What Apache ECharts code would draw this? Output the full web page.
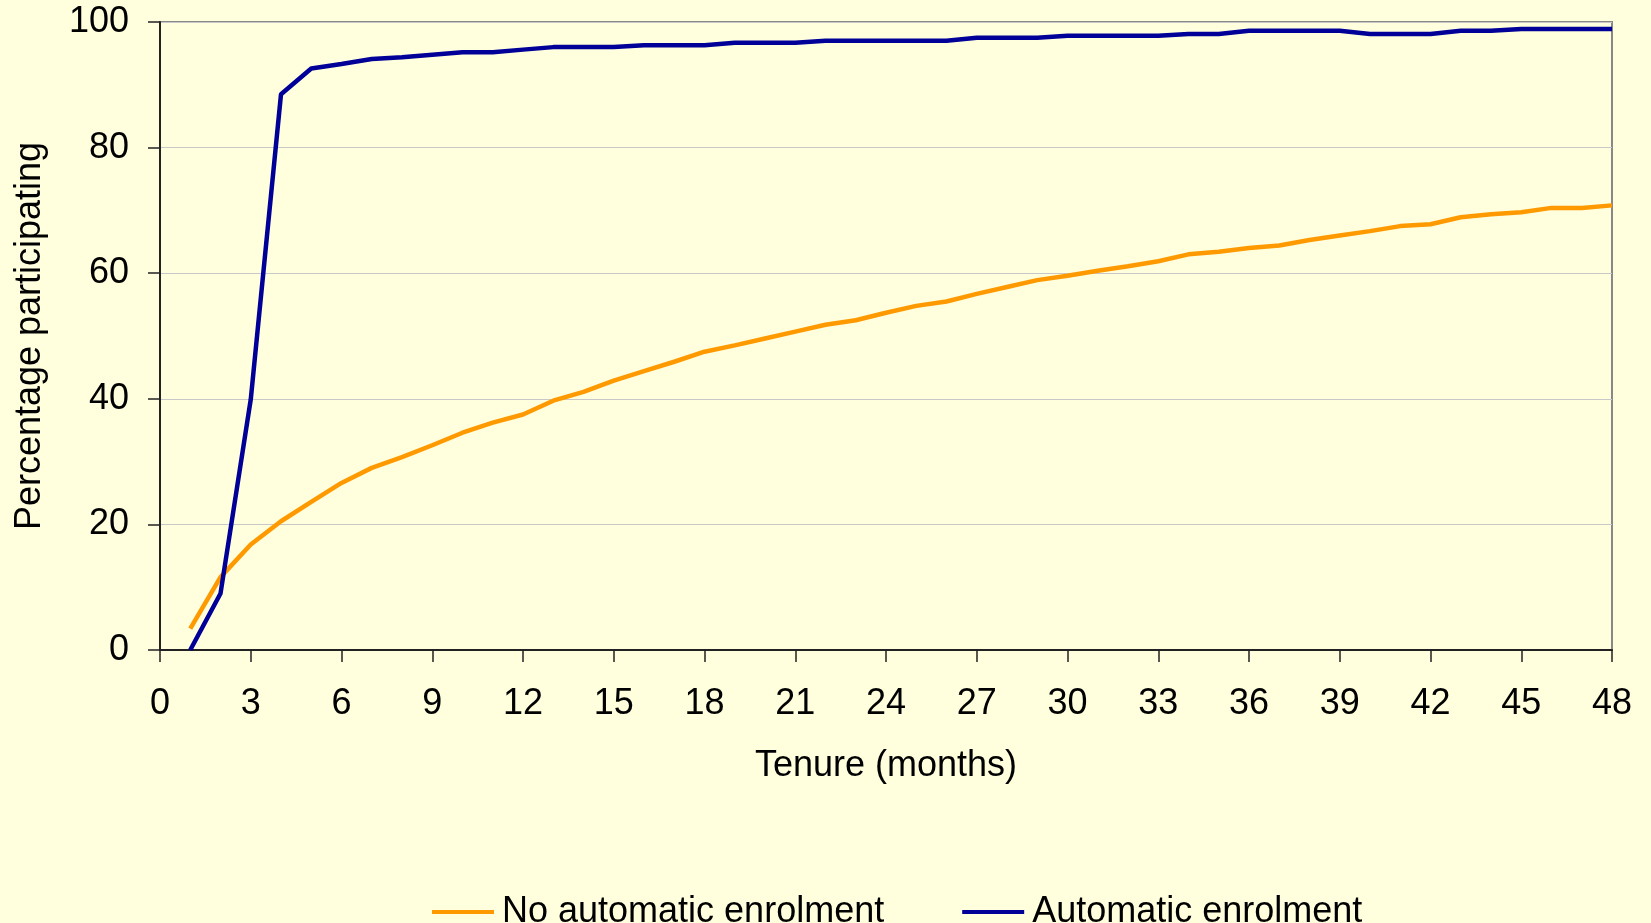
<!DOCTYPE html>
<html>
<head>
<meta charset="utf-8">
<title>Participation by tenure</title>
<script src="https://cdn.jsdelivr.net/npm/echarts@6/dist/echarts.min.js"></script>
<style>
  html, body { margin: 0; padding: 0; background: #FFFFDD; }
  #chart { width: 1651px; height: 923px; }
</style>
</head>
<body>
<div id="chart"></div>
<script>
// Tenure in months (1..48)
const months = [];
for (let m = 1; m <= 48; m++) months.push(m);

// Percentage participating, no automatic enrolment
const noAutoEnrol = [
  3.4, 11.6, 16.8, 20.5, 23.6, 26.6, 29.0, 30.7, 32.6, 34.6,
  36.2, 37.5, 39.7, 41.1, 42.9, 44.4, 45.9, 47.5, 48.5, 49.6,
  50.7, 51.8, 52.5, 53.7, 54.8, 55.5, 56.7, 57.8, 58.9, 59.6,
  60.4, 61.1, 61.9, 63.0, 63.4, 64.0, 64.4, 65.3, 66.0, 66.7,
  67.5, 67.8, 68.9, 69.4, 69.7, 70.4, 70.4, 70.8
];

// Percentage participating, automatic enrolment
const autoEnrol = [
  0.0, 9.0, 39.9, 88.5, 92.6, 93.3, 94.1, 94.4, 94.8, 95.2,
  95.2, 95.6, 96.0, 96.0, 96.0, 96.3, 96.3, 96.3, 96.7, 96.7,
  96.7, 97.0, 97.0, 97.0, 97.0, 97.0, 97.5, 97.5, 97.5, 97.8,
  97.8, 97.8, 97.8, 98.1, 98.1, 98.6, 98.6, 98.6, 98.6, 98.1,
  98.1, 98.1, 98.6, 98.6, 98.9, 98.9, 98.9, 98.9
];

const seriesNames = ['No automatic enrolment', 'Automatic enrolment'];
const xAxisTitle = 'Tenure (months)';
const yAxisTitle = 'Percentage participating';

const pairs = (vals) => months.map((m, i) => [m, vals[i]]);

const font = '"Liberation Sans", Arial, sans-serif';
const fs = 36;
const chart = echarts.init(document.getElementById('chart'), null, { renderer: 'canvas' });

chart.setOption({
  backgroundColor: '#FFFFDD',
  animation: false,
  textStyle: { fontFamily: font, color: '#000' },
  grid: {
    left: 160, right: 39, top: 22, bottom: 273,
    show: true,
    borderColor: '#888888',
    borderWidth: 2,
    backgroundColor: 'transparent'
  },
  legend: {
    data: seriesNames,
    left: 427,
    top: 889,
    icon: 'rect',
    itemWidth: 62,
    itemHeight: 4,
    itemGap: 78,
    textStyle: { fontSize: fs, color: '#000', fontFamily: font, padding: [0, 0, 0, 3] }
  },
  xAxis: {
    type: 'value',
    min: 0, max: 48, interval: 3,
    name: xAxisTitle,
    nameLocation: 'middle',
    nameGap: 98,
    nameTextStyle: { fontSize: fs, color: '#000', fontFamily: font },
    axisLine: { show: true, lineStyle: { color: '#222', width: 2 } },
    axisTick: { show: true, inside: false, length: 12, lineStyle: { color: '#222', width: 1.5 } },
    axisLabel: { fontSize: fs, color: '#000', margin: 36, fontFamily: font },
    splitLine: { show: false }
  },
  yAxis: {
    type: 'value',
    min: 0, max: 100, interval: 20,
    name: yAxisTitle,
    nameLocation: 'middle',
    nameRotate: 90,
    nameGap: 112,
    nameTextStyle: { fontSize: fs, color: '#000', fontFamily: font },
    axisLine: { show: true, lineStyle: { color: '#222', width: 2 } },
    axisTick: { show: true, inside: false, length: 12, lineStyle: { color: '#222', width: 1.5 } },
    axisLabel: { fontSize: fs, color: '#000', margin: 31, fontFamily: font },
    splitLine: { show: true, lineStyle: { color: '#C8C8C8', width: 1 } }
  },
  series: [
    {
      name: seriesNames[0],
      type: 'line',
      data: pairs(noAutoEnrol),
      showSymbol: false,
      symbol: 'none',
      color: '#FF9900',
      lineStyle: { color: '#FF9900', width: 4.5 },
      z: 3
    },
    {
      name: seriesNames[1],
      type: 'line',
      data: pairs(autoEnrol),
      showSymbol: false,
      symbol: 'none',
      color: '#000099',
      lineStyle: { color: '#000099', width: 4.5 },
      z: 4
    }
  ]
});
</script>
</body>
</html>
